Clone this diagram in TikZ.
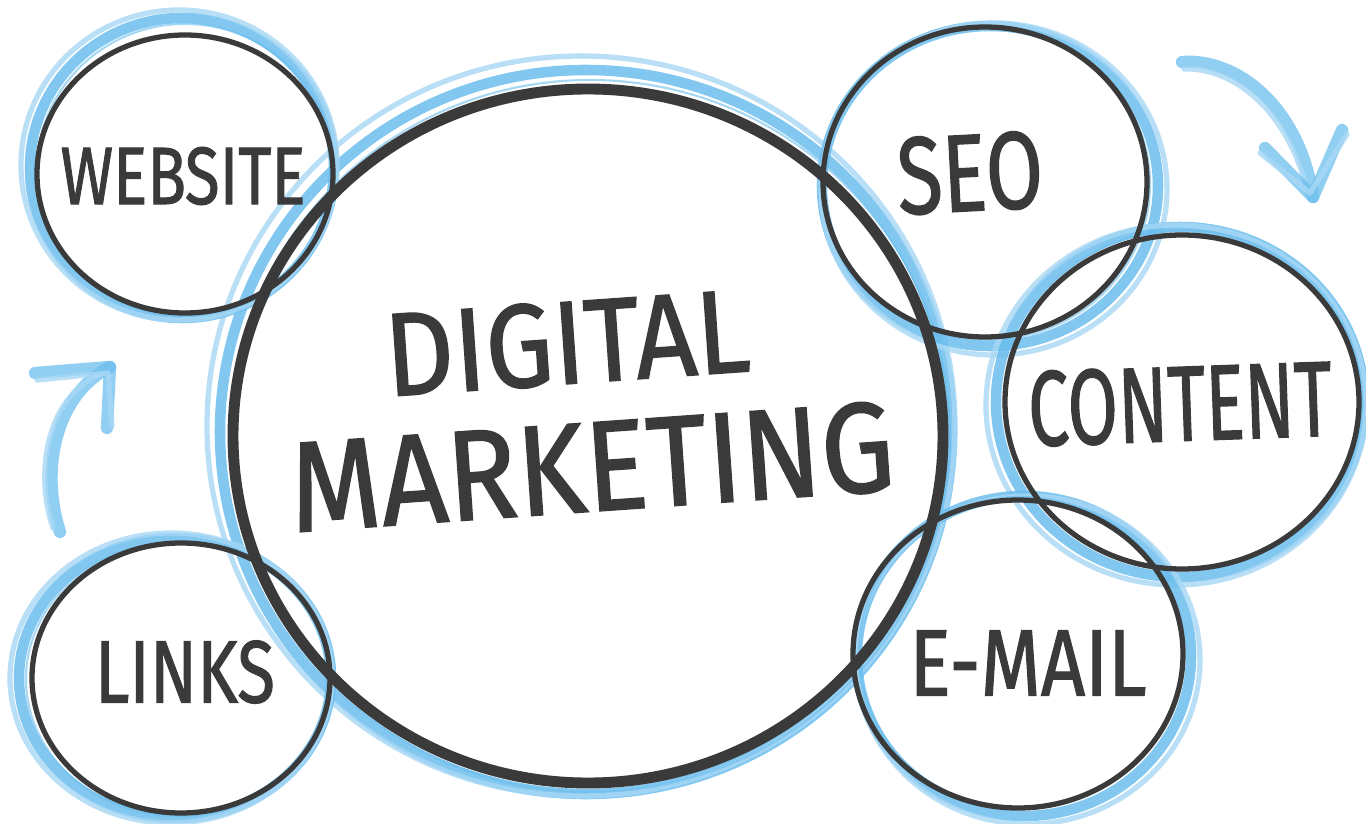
\documentclass[tikz,border=0pt]{standalone}
\usepackage{fontspec}
\setmainfont{Fira Sans}
\newfontfamily\markerfont{Fira Sans}[FakeBold=1.3]
\usepackage{graphicx}
\definecolor{ink}{RGB}{58,58,58}
\definecolor{sky}{RGB}{108,190,238}
\definecolor{skylt}{RGB}{168,216,245}
\begin{document}
\begin{tikzpicture}[x=0.02cm,y=-0.02cm,
  bluering/.style={draw=sky,line width=6pt,opacity=0.85},
  bluehaze/.style={draw=skylt,line width=3pt,opacity=0.8},
  bluefine/.style={draw=sky,line width=1.2pt,opacity=0.6},
  smallring/.style={draw=ink,line width=3pt},
  bigring/.style={draw=ink,line width=6.2pt},
  txt/.style={inner sep=0pt,text=ink,font=\markerfont},
  arrowstroke/.style={draw=sky,line width=7pt,line cap=round,line join=round,opacity=0.75},
  arrowhaze/.style={draw=skylt,line width=3pt,line cap=round,line join=round,opacity=0.8},
]
\fill[white] (0,0) rectangle (1366,824);
\useasboundingbox (0,0) rectangle (1366,824);

% centres
\coordinate (cMain) at (588,436);
\coordinate (cWeb) at (185,174);
\coordinate (cSeo) at (985,182);
\coordinate (cCont) at (1182,402);
\coordinate (cMail) at (1018,654);
\coordinate (cLinks) at (181,678);

\coordinate (bMain) at (586,432);
\coordinate (bWeb) at (182,168);
\coordinate (bSeo) at (990,186);
\coordinate (bCont) at (1180,402);
\coordinate (bMail) at (1024,656);
\coordinate (bLinks) at (175,678);

% blue sketch rings
\draw[bluering] (bMain) ellipse [x radius=366, y radius=362];
\draw[bluehaze] ([shift={(-5,-6)}]bMain) ellipse [x radius=374, y radius=370];
\draw[bluefine] ([shift={(4,4)}]bMain) ellipse [x radius=360, y radius=356];
\draw[bluering] (bWeb) ellipse [x radius=152, y radius=150];
\draw[bluehaze] ([shift={(-3,-3)}]bWeb) ellipse [x radius=158, y radius=155];
\draw[bluefine] ([shift={(3,2)}]bWeb) ellipse [x radius=148, y radius=146];
\draw[bluering] (bSeo) ellipse [x radius=168, y radius=160];
\draw[bluehaze] ([shift={(4,3)}]bSeo) ellipse [x radius=173, y radius=166];
\draw[bluefine] ([shift={(-3,-2)}]bSeo) ellipse [x radius=163, y radius=156];
\draw[bluering] (bCont) ellipse [x radius=184, y radius=175];
\draw[bluehaze] ([shift={(-4,3)}]bCont) ellipse [x radius=190, y radius=180];
\draw[bluefine] ([shift={(3,-2)}]bCont) ellipse [x radius=179, y radius=170];
\draw[bluering] (bMail) ellipse [x radius=167, y radius=160];
\draw[bluehaze] ([shift={(4,4)}]bMail) ellipse [x radius=172, y radius=164];
\draw[bluefine] ([shift={(-3,-3)}]bMail) ellipse [x radius=162, y radius=156];
\draw[bluering] (bLinks) ellipse [x radius=156, y radius=140];
\draw[bluehaze] ([shift={(-4,0)}]bLinks) ellipse [x radius=161, y radius=145];
\draw[bluefine] ([shift={(3,1)}]bLinks) ellipse [x radius=152, y radius=137];

% black rings
\draw[bigring] (cMain) ellipse [x radius=355, y radius=347];
\draw[smallring] (cWeb) ellipse [x radius=148, y radius=139];
\draw[smallring] (cSeo) ellipse [x radius=162, y radius=155];
\draw[smallring] (cCont) ellipse [x radius=177, y radius=167];
\draw[smallring] (cMail) ellipse [x radius=165, y radius=154];
\draw[smallring] (cLinks) ellipse [x radius=149, y radius=135];

% arrows
\coordinate (a1s) at (1182,62);
\coordinate (a1t) at (1313,197);
\coordinate (a1l) at (1265,148);
\coordinate (a1r) at (1342,130);
\draw[arrowstroke] (a1s) .. controls (1240,58) and (1300,110) .. (a1t);
\draw[arrowhaze] ([shift={(2,7)}]a1s) .. controls (1236,67) and (1291,115) .. ([shift={(-5,-2)}]a1t);
\draw[arrowstroke] (a1l) -- (a1t) -- (a1r);
\draw[arrowhaze] ([shift={(-5,5)}]a1l) -- ([shift={(-3,-4)}]a1t) -- ([shift={(5,4)}]a1r);

\coordinate (a2s) at (60,532);
\coordinate (a2t) at (110,367);
\coordinate (a2l) at (35,373);
\coordinate (a2d) at (107,428);
\draw[arrowstroke] (a2s) .. controls (40,470) and (55,395) .. (a2t);
\draw[arrowhaze] ([shift={(-7,-4)}]a2s) .. controls (33,468) and (49,391) .. ([shift={(-4,5)}]a2t);
\draw[arrowstroke] (a2l) -- (a2t) -- (a2d);
\draw[arrowhaze] ([shift={(2,7)}]a2l) -- ([shift={(-2,6)}]a2t) -- ([shift={(5,-2)}]a2d);

% texts
\node[txt] (tWeb) at (183,176) {\resizebox{4.9cm}{1.14cm}{WEBSITE}};
\node[txt,rotate=3] (tSeo) at (970,173) {\resizebox{2.92cm}{1.54cm}{SEO}};
\node[txt,rotate=2] (tCont) at (1180,404) {\resizebox{6.08cm}{1.5cm}{CONTENT}};
\node[txt] (tMail) at (1028,663) {\resizebox{4.74cm}{1.3cm}{E-MAIL}};
\node[txt] (tLinks) at (185,672) {\resizebox{3.6cm}{1.24cm}{LINKS}};
\node[txt,rotate=4] (tDig) at (567,343) {\resizebox{7.3cm}{1.66cm}{DIGITAL}};
\node[txt,rotate=4] (tMkt) at (592,467) {\resizebox{12.1cm}{1.8cm}{MARKETING}};
\end{tikzpicture}
\end{document}
